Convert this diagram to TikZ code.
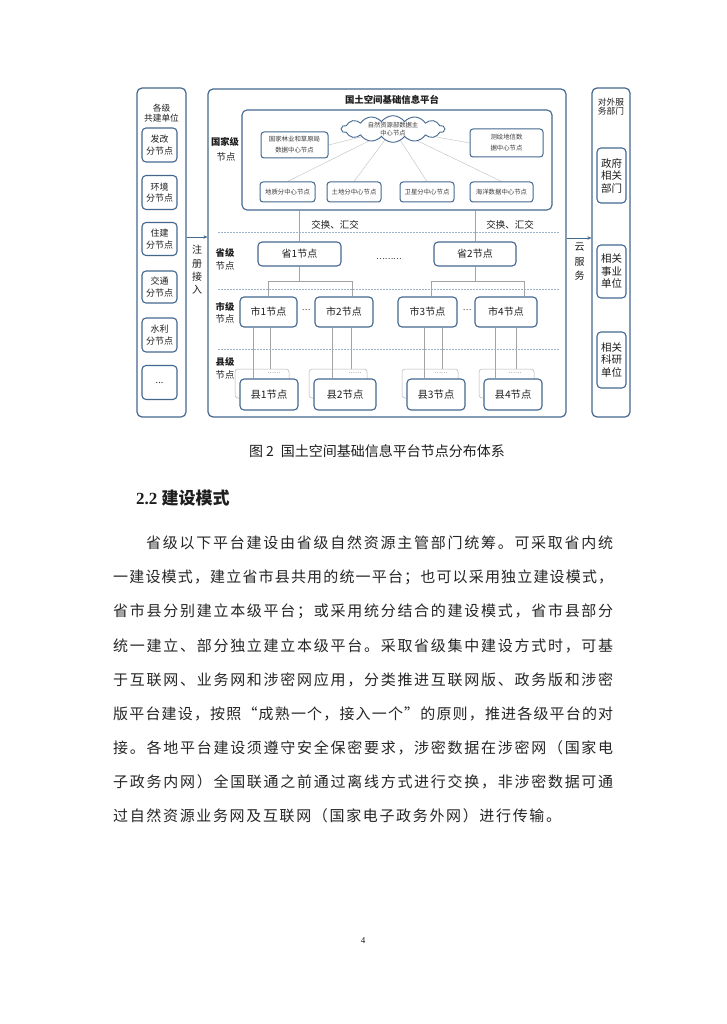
\documentclass[tikz,border=0pt]{standalone}
\usepackage{fontspec}
\setmainfont{Liberation Serif}
\newfontfamily\cjk{Noto Sans CJK SC}
\usetikzlibrary{shapes.symbols,backgrounds,arrows.meta}
\definecolor{bdr}{HTML}{43678F}
\definecolor{sepc}{HTML}{9DB3CC}
\definecolor{treec}{HTML}{A3A3A3}
\definecolor{linkc}{HTML}{C9C9C9}
\definecolor{ghostc}{HTML}{B5B5B5}
\definecolor{txt}{HTML}{1E1E1E}
\definecolor{bodytxt}{HTML}{262626}
\definecolor{smalltxt}{HTML}{3A3A3A}
\def\spreadfirst#1{#1\spreadrest}
\def\spreadrest#1{\ifx#1\relax\else\hfil#1\expandafter\spreadrest\fi}
\newcommand\spreadto[2]{\hbox to #1{\spreadfirst#2\relax}}
\def\kernfirst#1{#1\kernrest}
\def\kernrest#1{\ifx#1\relax\else\kern1.65pt#1\expandafter\kernrest\fi}
\newcommand\kernline[1]{\hbox{\kernfirst#1\relax}}
\begin{document}
\begin{tikzpicture}[x=1pt,y=-1pt,
  outerbox/.style={draw=bdr,line width=1.2pt,rounded corners=5pt,inner sep=0pt},
  subbox/.style={draw=bdr,line width=1.1pt,rounded corners=4pt,fill=white,inner sep=0pt,align=center,text=txt,font=\cjk\fontsize{9}{11.5}\selectfont},
  natbox/.style={draw=bdr,line width=1pt,rounded corners=3pt,fill=white,inner sep=0pt,align=center,text=smalltxt,font=\cjk\fontsize{6.4}{11}\selectfont},
  lvlbox/.style={draw=bdr,line width=1.1pt,rounded corners=4pt,fill=white,inner sep=0pt,text=txt,font=\cjk\fontsize{10}{11}\selectfont},
  ghostbox/.style={draw=ghostc,line width=.5pt,rounded corners=3pt,inner sep=0pt},
  lvllabel/.style={inner sep=0pt,text=txt,font=\cjk\fontsize{9.3}{11}\selectfont},
  tree/.style={draw=treec,line width=.6pt},
  link/.style={draw=linkc,line width=.5pt},
  sepline/.style={draw=sepc,line width=.6pt,dash pattern=on 1.5pt off 1.5pt},
  flow/.style={draw=bdr,line width=.9pt,-{Stealth[length=4pt,width=3.5pt]}},
  plain/.style={inner sep=0pt,text=txt},
  body/.style={inner sep=0pt,anchor=west,text=bodytxt,font=\cjk\fontsize{15}{15}\selectfont}
]
\begin{pgfonlayer}{background}
\fill[white] (0,0) rectangle (726,1024);
\end{pgfonlayer}
\useasboundingbox (0,0) rectangle (726,1024);

% ---------- left column ----------
\node[outerbox,minimum width=49pt,minimum height=329pt] (leftbox) at (161.5,252.5) {};
\node[plain,align=center,font=\cjk\fontsize{8.7}{10}\selectfont] (lefttitle) at (161.5,113) {各级\\共建单位};
\node[subbox,minimum width=35pt,minimum height=34pt] (fg) at (159.5,145) {发改\\分节点};
\node[subbox,minimum width=35pt,minimum height=34pt] (hj) at (159.5,192.5) {环境\\分节点};
\node[subbox,minimum width=35pt,minimum height=33pt] (zj) at (159.5,239) {住建\\分节点};
\node[subbox,minimum width=35pt,minimum height=32pt] (jt) at (159.5,287) {交通\\分节点};
\node[subbox,minimum width=35pt,minimum height=34pt] (sl) at (159.5,335) {水利\\分节点};
\node[subbox,minimum width=35pt,minimum height=34pt] (etc) at (159.5,382.5) {...};

% ---------- main box ----------
\node[outerbox,minimum width=358pt,minimum height=328pt] (mainbox) at (387,253) {};
\node[plain,font=\cjk\bfseries\fontsize{9.4}{11}\selectfont] (maintitle) at (392,100) {国土空间基础信息平台};

% national level
\node[outerbox,line width=1.1pt,minimum width=310pt,minimum height=100pt] (nat) at (397,160) {};
\node[lvllabel,font=\cjk\bfseries\fontsize{9.3}{11}\selectfont] (gjj) at (225,142) {国家级};
\node[lvllabel] (gjjd) at (226,157) {节点};
\node[cloud,cloud puffs=14,cloud puff arc=110,cloud ignores aspect,draw=bdr,line width=.9pt,fill=white,
      minimum width=103pt,minimum height=23pt,inner sep=0pt,align=center,text=smalltxt,
      font=\cjk\fontsize{6.3}{7.5}\selectfont] (cloud) at (393,129) {自然资源部数据主\\中心节点};
\node[natbox,minimum width=67pt,minimum height=26pt] (lin) at (294.5,145) {国家林业和草原局\\数据中心节点};
\node[natbox,minimum width=73pt,minimum height=28pt] (ch) at (506.5,143) {测绘地信数\\据中心节点};
\node[natbox,minimum width=55pt,minimum height=20pt] (dz) at (287.5,192) {地质分中心节点};
\node[natbox,minimum width=54pt,minimum height=20pt] (td) at (354,192) {土地分中心节点};
\node[natbox,minimum width=54pt,minimum height=20pt] (wx) at (427,192) {卫星分中心节点};
\node[natbox,minimum width=63pt,minimum height=20pt] (hy) at (501.5,192) {海洋数据中心节点};
\begin{pgfonlayer}{background}
\draw[link] (cloud.center) -- (lin.east);
\draw[link] (cloud.center) -- (ch.west);
\draw[link] (cloud.center) -- (dz.north);
\draw[link] (cloud.center) -- (td.north);
\draw[link] (cloud.center) -- (wx.north);
\draw[link] (cloud.center) -- (hy.north);
\end{pgfonlayer}

% separators
\draw[sepline] (218,232) -- (560,232);
\draw[sepline] (218,289) -- (560,289);
\draw[sepline] (218,349) -- (560,349);

% province level
\node[lvllabel,font=\cjk\bfseries\fontsize{9.3}{11}\selectfont] (sjl) at (225,253) {省级};
\node[lvllabel] (sjld) at (225,266) {节点};
\node[lvlbox,minimum width=83pt,minimum height=24pt] (sheng1) at (299.5,254) {省1节点};
\node[lvlbox,minimum width=82pt,minimum height=24pt] (sheng2) at (475,254) {省2节点};
\node[plain,font=\cjk\fontsize{8}{9}\selectfont] (sdots) at (389,259) {………};
\draw[tree] (sheng1.north |- nat.south) -- (sheng1.north);
\draw[tree] (sheng2.north |- nat.south) -- (sheng2.north);
\node[plain,font=\cjk\fontsize{9.5}{11}\selectfont] (jh1) at (335,225) {交换、汇交};
\node[plain,font=\cjk\fontsize{9.5}{11}\selectfont] (jh2) at (510,225) {交换、汇交};

% city level
\node[lvllabel,font=\cjk\bfseries\fontsize{9.3}{11}\selectfont] (shjl) at (225,307) {市级};
\node[lvllabel] (shjld) at (225,319) {节点};
\node[lvlbox,minimum width=57pt,minimum height=30pt] (shi1) at (268.5,312) {市1节点};
\node[lvlbox,minimum width=58pt,minimum height=30pt] (shi2) at (344,312) {市2节点};
\node[lvlbox,minimum width=59pt,minimum height=30pt] (shi3) at (427.5,312) {市3节点};
\node[lvlbox,minimum width=62pt,minimum height=30pt] (shi4) at (506,312) {市4节点};
\node[plain,font=\cjk\fontsize{8}{9}\selectfont] (cd1) at (306,310) {…};
\node[plain,font=\cjk\fontsize{8}{9}\selectfont] (cd2) at (467,310) {…};
\draw[tree] (sheng1.south) -- (sheng1.south |- 0,281);
\draw[tree] (shi1.north) |- (352,281) -- (352,0 |- shi2.north);
\draw[tree] (sheng2.south) -- (sheng2.south |- 0,281);
\draw[tree] (431,0 |- shi3.north) |- (524,281) -- (524,0 |- shi4.north);

% county level
\node[lvllabel,font=\cjk\bfseries\fontsize{9.3}{11}\selectfont] (xjl) at (225,362) {县级};
\node[lvllabel] (xjld) at (225,375) {节点};
\node[ghostbox,minimum width=54pt,minimum height=29pt] (g1) at (262,383.5) {};
\node[ghostbox,minimum width=58pt,minimum height=29pt] (g2) at (338,383.5) {};
\node[ghostbox,minimum width=56pt,minimum height=29pt] (g3) at (430,383.5) {};
\node[ghostbox,minimum width=55pt,minimum height=29pt] (g4) at (506.5,383.5) {};
\node[plain,text=smalltxt,font=\cjk\fontsize{6}{7}\selectfont] (gd1) at (274,373) {……};
\node[plain,text=smalltxt,font=\cjk\fontsize{6}{7}\selectfont] (gd2) at (355,373) {……};
\node[plain,text=smalltxt,font=\cjk\fontsize{6}{7}\selectfont] (gd3) at (441,373) {……};
\node[plain,text=smalltxt,font=\cjk\fontsize{6}{7}\selectfont] (gd4) at (515,373) {……};
\node[lvlbox,font=\cjk\fontsize{10.3}{11}\selectfont,minimum width=58pt,minimum height=31pt] (xian1) at (269,394.5) {县1节点};
\node[lvlbox,font=\cjk\fontsize{10.3}{11}\selectfont,minimum width=62pt,minimum height=31pt] (xian2) at (345,394.5) {县2节点};
\node[lvlbox,font=\cjk\fontsize{10.3}{11}\selectfont,minimum width=58pt,minimum height=31pt] (xian3) at (436,394.5) {县3节点};
\node[lvlbox,font=\cjk\fontsize{10.3}{11}\selectfont,minimum width=58pt,minimum height=31pt] (xian4) at (513,394.5) {县4节点};
\begin{pgfonlayer}{background}
\draw[tree] (253,0 |- shi1.south) -- (253,0 |- xian1.north);
\draw[tree] (270,0 |- shi1.south) -- (270,0 |- g1.north);
\draw[tree] (332,0 |- shi2.south) -- (332,0 |- xian2.north);
\draw[tree] (351,0 |- shi2.south) -- (351,0 |- g2.north);
\draw[tree] (424,0 |- shi3.south) -- (424,0 |- xian3.north);
\draw[tree] (442,0 |- shi3.south) -- (442,0 |- g3.north);
\draw[tree] (495,0 |- shi4.south) -- (495,0 |- xian4.north);
\draw[tree] (516,0 |- shi4.south) -- (516,0 |- g4.north);
\end{pgfonlayer}

% ---------- right column ----------
\node[outerbox,minimum width=38pt,minimum height=329pt] (rightbox) at (611,252.5) {};
\node[plain,align=center,font=\cjk\fontsize{8.7}{9.5}\selectfont] (righttitle) at (611,106.5) {对外服\\务部门};
\node[subbox,font=\cjk\fontsize{10.5}{12.5}\selectfont,minimum width=29pt,minimum height=55pt] (zf) at (611.5,175.5) {政府\\相关\\部门};
\node[subbox,font=\cjk\fontsize{10.5}{12.5}\selectfont,minimum width=29pt,minimum height=53pt] (sy) at (611.5,271.5) {相关\\事业\\单位};
\node[subbox,font=\cjk\fontsize{10.5}{12.5}\selectfont,minimum width=29pt,minimum height=56pt] (ky) at (611.5,360) {相关\\科研\\单位};

% ---------- arrows ----------
\draw[flow] (leftbox.east |- 0,237) -- (mainbox.west |- 0,237);
\node[plain,align=center,font=\cjk\fontsize{10}{13.3}\selectfont] (zcjr) at (197,270) {注\\册\\接\\入};
\draw[flow] (mainbox.east |- 0,238) -- (rightbox.west |- 0,238);
\node[plain,align=center,font=\cjk\fontsize{10}{14.5}\selectfont] (yfw) at (579.5,262) {云\\服\\务};

% ---------- caption and text ----------
\node[plain,font=\cjk\fontsize{14}{16}\selectfont] (caption) at (377,451) {图 2\enspace 国土空间基础信息平台节点分布体系};
\node[plain,anchor=west,font=\fontsize{17}{20}\selectfont\bfseries] (heading) at (136,498) {2.2 {\cjk 建设模式}};

\node[body] (l1) at (146,543) {\spreadto{467pt}{省级以下平台建设由省级自然资源主管部门统筹。可采取省内统}};
\node[body] (l2) at (113,577.5) {\spreadto{500pt}{一建设模式，建立省市县共用的统一平台；也可以采用独立建设模式，}};
\node[body] (l3) at (113,611.5) {\spreadto{500pt}{省市县分别建立本级平台；或采用统分结合的建设模式，省市县部分}};
\node[body] (l4) at (113,645.5) {\spreadto{500pt}{统一建立、部分独立建立本级平台。采取省级集中建设方式时，可基}};
\node[body] (l5) at (113,679.5) {\spreadto{500pt}{于互联网、业务网和涉密网应用，分类推进互联网版、政务版和涉密}};
\node[body] (l6) at (113,713.5) {\spreadto{500pt}{版平台建设，按照“成熟一个，接入一个”的原则，推进各级平台的对}};
\node[body] (l7) at (113,747.5) {\spreadto{500pt}{接。各地平台建设须遵守安全保密要求，涉密数据在涉密网（国家电}};
\node[body] (l8) at (113,781.5) {\spreadto{500pt}{子政务内网）全国联通之前通过离线方式进行交换，非涉密数据可通}};
\node[body] (l9) at (113,815.5) {\kernline{过自然资源业务网及互联网（国家电子政务外网）进行传输。}};

\node[plain,font=\fontsize{9}{10}\selectfont] (pagenum) at (363,941) {4};
\end{tikzpicture}
\end{document}
